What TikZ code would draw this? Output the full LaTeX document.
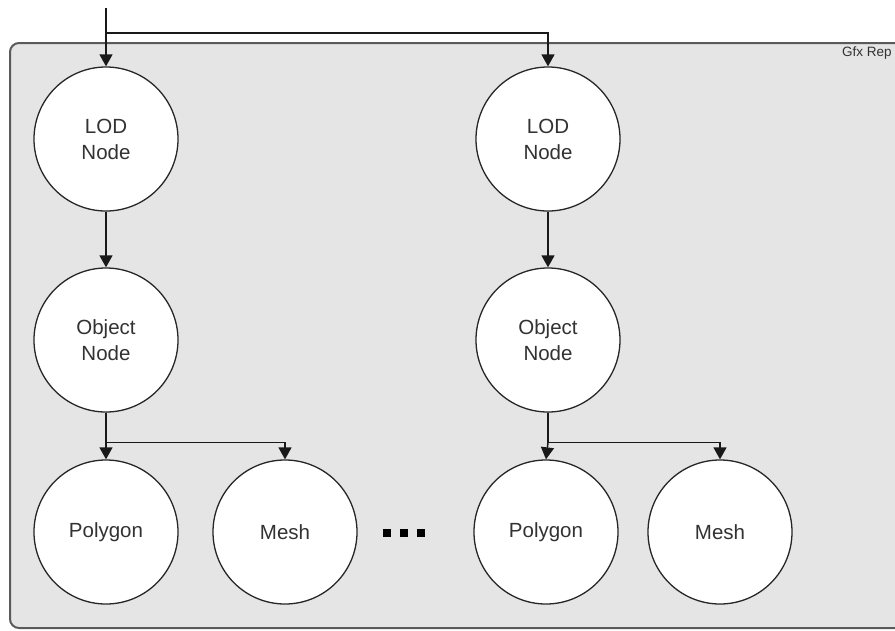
\documentclass[tikz,border=0pt]{standalone}
\usepackage{fontspec}
\setmainfont{Liberation Sans}
\usetikzlibrary{arrows.meta}
\definecolor{boxfill}{RGB}{229,229,229}
\definecolor{boxline}{RGB}{90,90,90}
\definecolor{txt}{RGB}{50,50,50}
\tikzset{
  circnode/.style={circle, draw=black!85, line width=1.3pt, fill=white, minimum size=144pt, inner sep=0pt, align=center, text=txt, font=\fontsize{20.5}{26}\selectfont},
  conn/.style={draw=black!90, line width=1.5pt, -{Triangle[width=13pt,length=12pt]}},
  dotsq/.style={fill=black, minimum size=8pt, inner sep=0pt}
}
\begin{document}
\begin{tikzpicture}[x=1pt,y=-1pt]
\useasboundingbox (0,0) rectangle (895,630);
\clip (0,0) rectangle (895,630);
\draw[fill=boxfill, draw=boxline, line width=2pt, rounded corners=9pt] (10,43) rectangle (920,628);
\node[anchor=north west, text=txt, font=\fontsize{13.5}{15}\selectfont, inner sep=0pt] (lbl) at (842,47) {Gfx Rep};
\node[circnode] (lod1) at (106,139) {LOD\\Node};
\node[circnode] (obj1) at (106,340) {Object\\Node};
\node[circnode] (poly1) at (106,532) {Polygon};
\node[circnode] (mesh1) at (285,532) {Mesh};
\node[circnode] (lod2) at (548,139) {LOD\\Node};
\node[circnode] (obj2) at (548,340) {Object\\Node};
\node[circnode] (poly2) at (546,532) {Polygon};
\node[circnode] (mesh2) at (720,532) {Mesh};
\node[dotsq] (d1) at (387,533) {};
\node[dotsq] (d2) at (404,533) {};
\node[dotsq] (d3) at (421,533) {};
\coordinate (in) at (106,8);
\coordinate (split) at (106,33);
\draw[conn] (in) -- (lod1.north);
\draw[conn] (split) -| (lod2.north);
\draw[conn] (lod1) -- (obj1);
\draw[conn] (lod2) -- (obj2);
\draw[conn] (obj1.south) -- (poly1.north);
\draw[conn] (obj1.south) -- ++(0,30) -| (mesh1.north);
\draw[conn] (obj2.south) |- ++(0,30) -- (poly2.north);
\draw[conn] (obj2.south) -- ++(0,30) -| (mesh2.north);
\end{tikzpicture}
\end{document}
